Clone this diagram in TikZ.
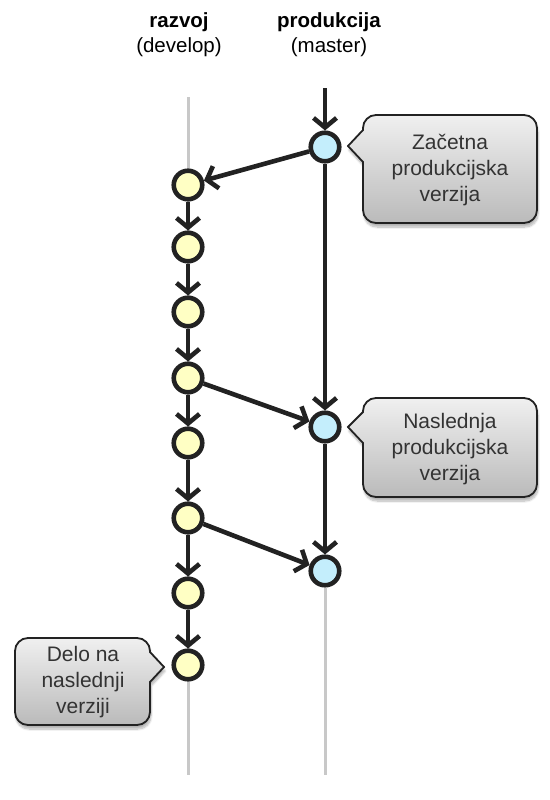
\documentclass[tikz,border=0pt]{standalone}
\usepackage{fontspec}
\setmainfont{Liberation Sans}
\usetikzlibrary{arrows.meta,shadows.blur}
\definecolor{ink}{HTML}{222222}
\definecolor{devfill}{HTML}{FFFFC4}
\definecolor{masfill}{HTML}{C4EEFC}
\definecolor{rail}{HTML}{C8C8C8}
\definecolor{calltext}{HTML}{333333}
\begin{document}
\begin{tikzpicture}[x=1pt,y=-1pt,
  commit/.style={circle,draw=ink,line width=4.6pt,minimum size=28.5pt,inner sep=0pt},
  devc/.style={commit,fill=devfill},
  masc/.style={commit,fill=masfill},
  flow/.style={draw=ink,line width=4.6pt,-{Straight Barb[length=9.5pt,width=23pt]}},
  railline/.style={draw=rail,line width=3pt},
  callout/.style={draw=ink,line width=1.8pt,top color=black!6,bottom color=black!27,
    blur shadow={shadow xshift=1pt,shadow yshift=-4pt,shadow blur steps=8,shadow opacity=30}},
  calltxt/.style={align=center,text=calltext,font=\fontsize{21}{26}\selectfont},
  title/.style={align=center,font=\fontsize{20.5}{25}\selectfont}
]
\useasboundingbox (0,0) rectangle (549,800);
% rails
\coordinate (dtop) at (188,97);
\coordinate (dbot) at (188,775);
\coordinate (mbot) at (325,775);
\coordinate (mtop) at (325,88);
\draw[railline] (dtop) -- (dbot);
% titles
\node[title] (t1) at (179,35) {\textbf{razvoj}\\(develop)};
\node[title] (t2) at (329,35) {\textbf{produkcija}\\(master)};
% callouts
\path[callout] (363,130) [rounded corners=13pt] -- (363,115) -- (537,115) -- (537,223) -- (363,223) [sharp corners] -- (363,162) -- (348,146) -- cycle;
\node[calltxt] (c1) at (450,170) {Začetna\\produkcijska\\verzija};
\path[callout] (363,412) [rounded corners=13pt] -- (363,398) -- (537,398) -- (537,497) -- (363,497) [sharp corners] -- (363,443) -- (348,427) -- cycle;
\node[calltxt] (c2) at (450,449) {Naslednja\\produkcijska\\verzija};
\path[callout] (150,652) [rounded corners=13pt] -- (150,638) -- (15,638) -- (15,725) -- (150,725) [sharp corners] -- (150,682) -- (164,667) -- cycle;
\node[calltxt] (c3) at (83,682) {Delo na\\naslednji\\verziji};
% commits
\node[masc] (m1) at (325,147) {};
\node[masc] (m2) at (325,427) {};
\node[masc] (m3) at (325,571) {};
\draw[railline] (m3) -- (mbot);
\node[devc] (d1) at (188,185) {};
\node[devc] (d2) at (188,247) {};
\node[devc] (d3) at (188,312) {};
\node[devc] (d4) at (188,378) {};
\node[devc] (d5) at (188,443) {};
\node[devc] (d6) at (188,518) {};
\node[devc] (d7) at (188,593) {};
\node[devc] (d8) at (188,665) {};
% connectors
\draw[flow] (mtop) -- (m1);
\draw[flow] (m1) -- (m2);
\draw[flow] (m2) -- (m3);
\draw[flow] (m1) -- (d1);
\draw[flow] (d1) -- (d2);
\draw[flow] (d2) -- (d3);
\draw[flow] (d3) -- (d4);
\draw[flow] (d4) -- (d5);
\draw[flow] (d5) -- (d6);
\draw[flow] (d6) -- (d7);
\draw[flow] (d7) -- (d8);
\draw[flow] (d4) -- (m2);
\draw[flow] (d6) -- (m3);
\end{tikzpicture}
\end{document}
